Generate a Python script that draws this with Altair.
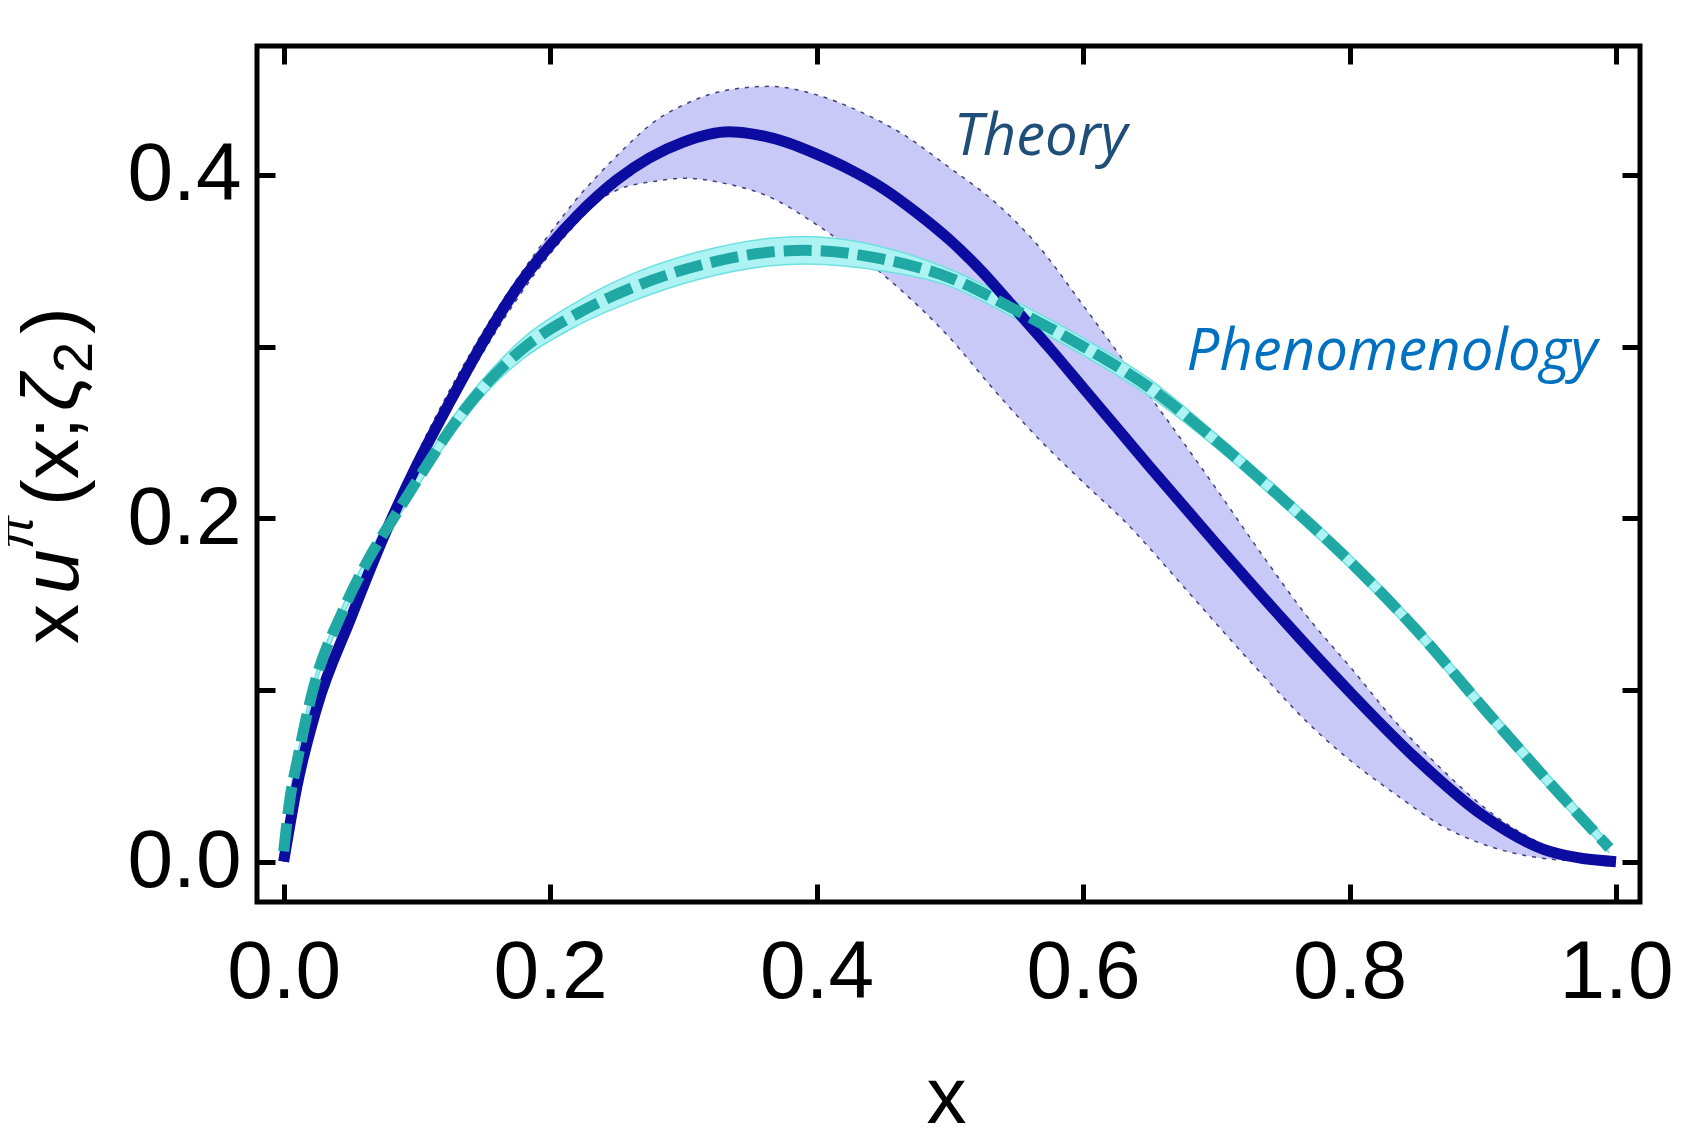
import altair as alt
import pandas as pd

# ---------------- data ----------------
# Theory: central curve
theory_x = [0.000, 0.010, 0.025, 0.050, 0.075, 0.100, 0.125, 0.150, 0.175, 0.200,
            0.220, 0.250, 0.300, 0.334, 0.350, 0.375, 0.400, 0.425, 0.450, 0.475,
            0.500, 0.525, 0.550, 0.575, 0.600, 0.650, 0.700, 0.750, 0.800, 0.850,
            0.900, 0.950, 1.000]
theory_y = [0.000, 0.044, 0.090, 0.141, 0.189, 0.231, 0.268, 0.303, 0.334, 0.359,
            0.376, 0.397, 0.419, 0.425, 0.424, 0.4195, 0.412, 0.403, 0.392, 0.378,
            0.362, 0.343, 0.321, 0.299, 0.276, 0.230, 0.185, 0.141, 0.099, 0.060,
            0.027, 0.006, 0.000]

# Theory: uncertainty band
tband_x = [0.000, 0.010, 0.025, 0.050, 0.075, 0.100, 0.150, 0.200, 0.220, 0.235,
           0.250, 0.281, 0.301, 0.331, 0.365, 0.398, 0.432, 0.466, 0.500, 0.534,
           0.567, 0.600, 0.634, 0.668, 0.701, 0.735, 0.768, 0.802, 0.835, 0.869,
           0.902, 0.936, 0.969, 1.000]
tband_lo = [0.000, 0.041, 0.086, 0.136, 0.184, 0.226, 0.297, 0.354, 0.372, 0.384,
            0.391, 0.3965, 0.398, 0.395, 0.387, 0.372, 0.353, 0.331, 0.305, 0.274,
            0.246, 0.221, 0.196, 0.1667, 0.1376, 0.1085, 0.0814, 0.058, 0.039, 0.021,
            0.0097, 0.003, 0.0005, 0.000]
tband_hi = [0.000, 0.047, 0.094, 0.146, 0.194, 0.237, 0.309, 0.366, 0.386, 0.399,
            0.411, 0.4325, 0.441, 0.449, 0.4515, 0.447, 0.437, 0.423, 0.404, 0.384,
            0.358, 0.324, 0.288, 0.252, 0.216, 0.178, 0.143, 0.112, 0.081, 0.054,
            0.031, 0.0136, 0.003, 0.000]

# Phenomenology: central curve and band
phen_x = [0.000, 0.005, 0.010, 0.022, 0.045, 0.065, 0.084, 0.101, 0.129, 0.153,
          0.180, 0.220, 0.264, 0.311, 0.365, 0.392, 0.449, 0.500, 0.550, 0.600,
          0.650, 0.700, 0.750, 0.800, 0.850, 0.900, 0.950, 0.995]
phen_y = [0.006, 0.038, 0.058, 0.100, 0.147, 0.178, 0.202, 0.223, 0.256, 0.279,
          0.299, 0.319, 0.335, 0.347, 0.355, 0.356, 0.351, 0.340, 0.321, 0.300,
          0.276, 0.245, 0.211, 0.175, 0.135, 0.090, 0.046, 0.008]
phen_lo = [0.003, 0.035, 0.055, 0.097, 0.144, 0.175, 0.198, 0.219, 0.251, 0.274,
           0.293, 0.312, 0.327, 0.339, 0.347, 0.348, 0.344, 0.335, 0.316, 0.295,
           0.271, 0.241, 0.207, 0.171, 0.131, 0.086, 0.042, 0.005]
phen_hi = [0.009, 0.041, 0.061, 0.103, 0.150, 0.181, 0.206, 0.227, 0.261, 0.284,
           0.305, 0.326, 0.343, 0.355, 0.363, 0.364, 0.358, 0.345, 0.326, 0.305,
           0.281, 0.249, 0.215, 0.179, 0.139, 0.094, 0.050, 0.011]

x_ticks = [0.0, 0.2, 0.4, 0.6, 0.8, 1.0]
y_ticks = [0.0, 0.1, 0.2, 0.3, 0.4]

theory_label = "Theory"
phen_label = "Phenomenology"

# ---------------- frames ----------------
df_t = pd.DataFrame({"x": theory_x, "y": theory_y})
df_tb = pd.DataFrame({"x": tband_x, "lo": tband_lo, "hi": tband_hi})
df_p = pd.DataFrame({"x": phen_x, "y": phen_y})
df_pb = pd.DataFrame({"x": phen_x, "lo": phen_lo, "hi": phen_hi})

W, H = 1383, 856
xs = alt.Scale(domain=[-0.02, 1.018], nice=False, zero=False)
ys = alt.Scale(domain=[-0.0235, 0.475], nice=False, zero=False)

TICK = 18
common_axis = dict(tickSize=TICK, tickWidth=5, tickColor="black", offset=-TICK,
                   domain=False, grid=False, title=None)

ax_bottom = alt.Axis(orient="bottom", values=x_ticks, format=".1f",
                     labelFont="Liberation Sans", labelFontSize=82, labelColor="black",
                     labelPadding=30, labelFlush=False, labelOverlap=False, **common_axis)
ax_left = alt.Axis(orient="left", values=y_ticks, format=".1f",
                   labelExpr="round(datum.value*10) % 2 == 0 ? datum.label : ''",
                   labelFont="Liberation Sans", labelFontSize=82, labelColor="black",
                   labelPadding=16, labelFlush=False, labelOverlap=False, **common_axis)
ax_top = alt.Axis(orient="top", values=x_ticks, labels=False, **common_axis)
ax_right = alt.Axis(orient="right", values=y_ticks, labels=False, **common_axis)


def X(field):
    return alt.X(field, scale=xs, axis=None)


def Y(field):
    return alt.Y(field, scale=ys, axis=None)


band_t = alt.Chart(df_tb).mark_area(color="#c9c9f7", opacity=1, interpolate="monotone").encode(
    x=alt.X("x:Q", scale=xs, axis=ax_bottom),
    y=alt.Y("lo:Q", scale=ys, axis=ax_left),
    y2="hi:Q",
)
band_t_lo = alt.Chart(df_tb).mark_line(color="#40407a", strokeWidth=1.5, strokeDash=[4, 6],
                                       interpolate="monotone").encode(x=X("x:Q"), y=Y("lo:Q"))
band_t_hi = alt.Chart(df_tb).mark_line(color="#40407a", strokeWidth=1.5, strokeDash=[4, 6],
                                       interpolate="monotone").encode(x=X("x:Q"), y=Y("hi:Q"))

band_p = alt.Chart(df_pb).mark_area(color="#aef3f3", opacity=1, interpolate="monotone").encode(
    x=alt.X("x:Q", scale=xs, axis=ax_top),
    y=alt.Y("lo:Q", scale=ys, axis=ax_right),
    y2="hi:Q",
)
band_p_lo = alt.Chart(df_pb).mark_line(color="#6fe0e0", strokeWidth=1.5,
                                       interpolate="monotone").encode(x=X("x:Q"), y=Y("lo:Q"))
band_p_hi = alt.Chart(df_pb).mark_line(color="#6fe0e0", strokeWidth=1.5,
                                       interpolate="monotone").encode(x=X("x:Q"), y=Y("hi:Q"))

line_t = alt.Chart(df_t).mark_line(color="#0c0ca0", strokeWidth=11,
                                   interpolate="monotone").encode(x=X("x:Q"), y=Y("y:Q"))
line_p = alt.Chart(df_p).mark_line(color="#20a8a4", strokeWidth=11, strokeDash=[28, 9],
                                   interpolate="monotone").encode(x=X("x:Q"), y=Y("y:Q"))

one = pd.DataFrame({"a": [0]})

txt_theory = alt.Chart(one).mark_text(
    text=theory_label, font="Open Sans", fontStyle="italic", fontSize=58, color="#1f4e79",
    align="left", baseline="alphabetic").encode(
    x=alt.XDatum(0.503, scale=xs, axis=None), y=alt.YDatum(0.4117, scale=ys, axis=None))
txt_phen = alt.Chart(one).mark_text(
    text=phen_label, font="Open Sans", fontStyle="italic", fontSize=58, color="#0070c0",
    align="left", baseline="alphabetic").encode(
    x=alt.XDatum(0.6777, scale=xs, axis=None), y=alt.YDatum(0.2864, scale=ys, axis=None))

# x-axis title
x_title = alt.Chart(one).mark_text(
    text="x", font="Liberation Sans", fontSize=80, color="black",
    align="center", baseline="alphabetic").encode(
    x=alt.value(W / 2 - 2), y=alt.value(1077))


# y-axis title  xu^π(x;ζ_2), composed of rotated pieces
def ypiece(t, ypos, xpos=-179, size=80, style="normal"):
    return alt.Chart(one).mark_text(
        text=t, font="Liberation Sans", fontSize=size, fontStyle=style, color="black",
        angle=270, align="left", baseline="alphabetic").encode(
        x=alt.value(xpos), y=alt.value(ypos))


y_title = [
    ypiece("x", 598),
    ypiece("u", 548, style="italic"),
    ypiece("π", 503, xpos=-224, size=50, style="italic"),
    ypiece("(x;", 460),
    ypiece("ζ", 365, style="italic"),
    ypiece("2", 327, xpos=-165, size=56),
    ypiece(")", 288),
]

chart = alt.layer(
    band_t, band_t_lo, band_t_hi, band_p, band_p_lo, band_p_hi,
    line_t, line_p, txt_theory, txt_phen, x_title, *y_title
).resolve_axis(x="independent", y="independent").properties(
    width=W, height=H,
    padding={"left": 249, "top": 38, "right": 40, "bottom": 240},
    autosize=alt.AutoSizeParams(type="none"),
    background="white",
).configure_view(stroke="black", strokeWidth=5)

chart.save("out.html", embed_options={"renderer": "svg", "actions": False})
